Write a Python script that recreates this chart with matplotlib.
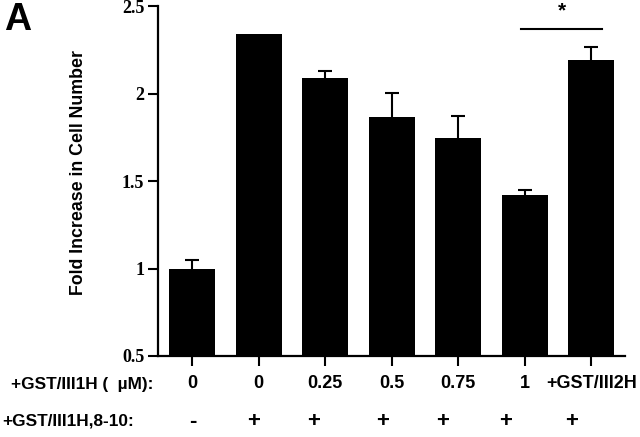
import matplotlib
matplotlib.use("Agg")
import matplotlib.pyplot as plt

# data
conc_labels = ['0', '0', '0.25', '0.5', '0.75', '1', '+GST/III2H']
frag_labels = ['-', '+', '+', '+', '+', '+', '+']
fold = [1.0, 2.34, 2.09, 1.865, 1.745, 1.42, 2.19]
err = [0.05, 0.0, 0.04, 0.14, 0.125, 0.03, 0.075]
frag_x = [0.015, 0.93, 1.82, 2.86, 3.77, 4.71, 5.71]

sans = 'Liberation Sans'
serif = 'Liberation Serif'

fig = plt.figure(figsize=(6.4, 4.37), dpi=100)
ax = fig.add_axes([0.247, 0.1854, 0.73, 0.8006])

x = list(range(len(fold)))
ax.bar(x, fold, width=0.69, color='black', zorder=2)
# error bars drawn under the bars so only the upper half shows
ex = [xi for xi, e in zip(x, err) if e > 0]
ey = [f for f, e in zip(fold, err) if e > 0]
ee = [e for e in err if e > 0]
ax.errorbar(ex, ey, yerr=ee, fmt='none', ecolor='black', elinewidth=1.5,
            capsize=4.7, capthick=1.5, zorder=1)

ax.set_ylim(0.5, 2.5)
ax.set_xlim(-0.51, 6.51)
ax.set_yticks([0.5, 1, 1.5, 2, 2.5])
ax.set_yticklabels(['0.5', '1', '1.5', '2', '2.5'],
                   fontfamily=serif, fontweight='bold', fontsize=13)
ax.set_xticks(x)
ax.set_xticklabels(conc_labels, fontfamily=sans, fontweight='bold', fontsize=13)
ax.tick_params(axis='both', direction='out', length=7, width=1.5, color='black')
ax.tick_params(axis='x', pad=7)
ax.tick_params(axis='y', pad=3)
for s in ['top', 'right']:
    ax.spines[s].set_visible(False)
for s in ['left', 'bottom']:
    ax.spines[s].set_linewidth(1.6)

# second row of labels
for xi, lab in zip(frag_x, frag_labels):
    ax.text(xi, -0.186, lab, transform=ax.get_xaxis_transform(),
            ha='center', va='center', fontfamily=sans, fontweight='bold', fontsize=16)

# significance marker
ax.plot([4.95, 6.16], [2.367, 2.367], color='black', lw=1.5, clip_on=False)
ax.text(5.56, 2.475, '*', ha='center', va='center', fontfamily=sans,
        fontweight='bold', fontsize=15, clip_on=False)

fig.text(0.122, 0.606, 'Fold Increase in Cell Number', rotation=90,
         ha='center', va='center', fontfamily=sans, fontweight='bold', fontsize=12.8)
fig.text(0.239, 1 - 385 / 437, '+GST/III1H (  \u00b5M):', ha='right', va='center',
         fontfamily=sans, fontweight='bold', fontsize=12.4)
fig.text(0.003, 1 - 421 / 437, '+GST/III1H,8-10:', ha='left', va='center',
         fontfamily=sans, fontweight='bold', fontsize=12.4)
fig.text(0.006, 0.995, 'A', ha='left', va='top', fontfamily=sans,
         fontweight='bold', fontsize=27)

fig.savefig('out.png', dpi=100)
